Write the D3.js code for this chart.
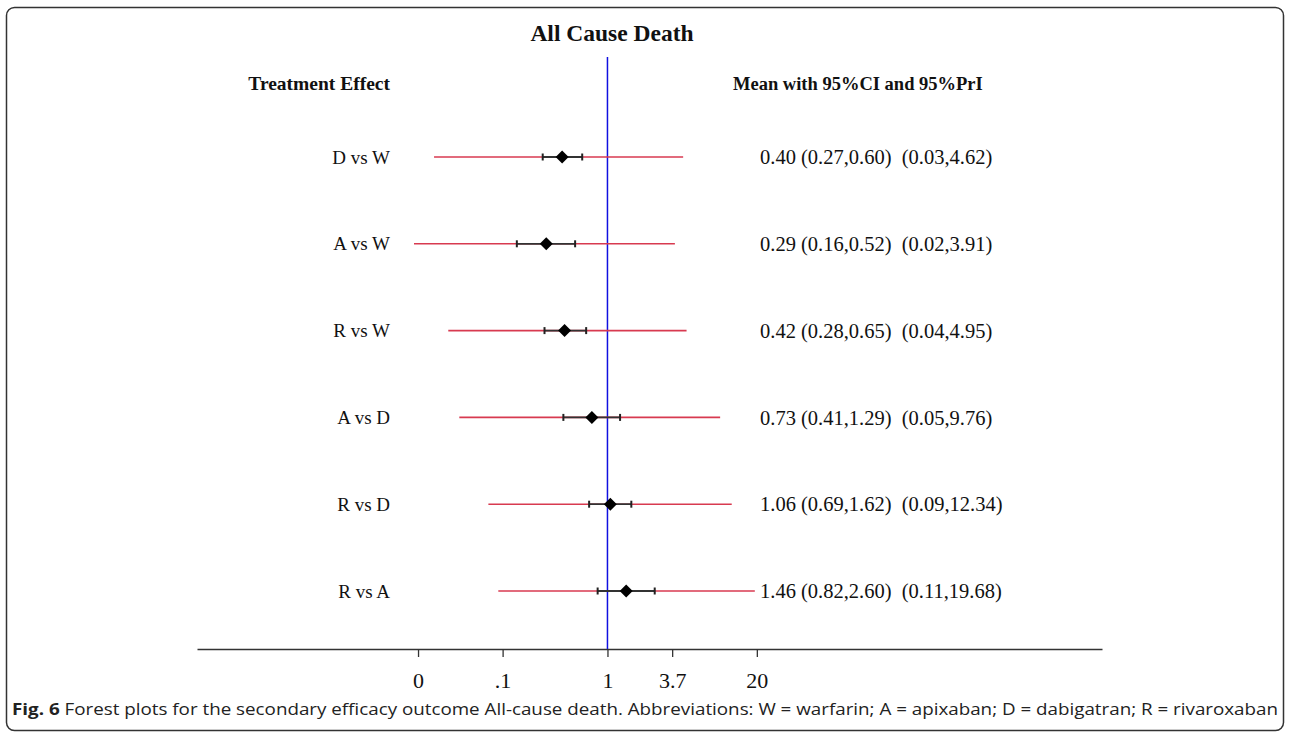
<!DOCTYPE html>
<html>
<head>
<meta charset="utf-8">
<script src="https://cdn.jsdelivr.net/npm/d3@7"></script>
<style>
  body { margin: 0; background: #fff; }
  .serif { font-family: "Liberation Serif", "Times New Roman", serif; }
  .caption { font-family: "Open Sans", "Noto Sans", sans-serif; }
</style>
</head>
<body>
<div class="chart"></div>
<script>
const comparisons = ["D vs W", "A vs W", "R vs W", "A vs D", "R vs D", "R vs A"];
const means  = [0.40, 0.29, 0.42, 0.73, 1.06, 1.46];
const ciLow  = [0.27, 0.16, 0.28, 0.41, 0.69, 0.82];
const ciHigh = [0.60, 0.52, 0.65, 1.29, 1.62, 2.60];
const priLow  = [0.03, 0.02, 0.04, 0.05, 0.09, 0.11];
const priHigh = [4.62, 3.91, 4.95, 9.76, 12.34, 19.68];
const tickValues = [0.0217, 0.12, 1, 3.7, 20.5];
const tickLabels = ["0", ".1", "1", "3.7", "20"];

const W = 1290, H = 738;

const data = comparisons.map((c, i) => ({
    name: c, mean: means[i], lo: ciLow[i], hi: ciHigh[i], plo: priLow[i], phi: priHigh[i]
}));

const svg = d3.select('.chart').append('svg')
    .attr("width", W)
    .attr("height", H);

// frame
svg.append("rect")
    .attr("x", 6.5).attr("y", 7.5)
    .attr("width", 1277).attr("height", 723)
    .attr("rx", 8)
    .attr("fill", "none")
    .attr("stroke", "#333")
    .attr("stroke-width", 1.5);

const xScale = d3.scaleLog()
    .domain([Math.exp(-8.3), Math.exp(10)])
    .range([197, 1102]);

const yScale = d3.scalePoint()
    .domain(comparisons)
    .range([157, 591]);

const axisY = 649;

// x axis
const xAxis = d3.axisBottom(xScale)
    .tickValues(tickValues)
    .tickFormat((d, i) => tickLabels[i])
    .tickSize(8)
    .tickPadding(15)
    .tickSizeOuter(0);

const ax = svg.append("g")
    .attr("class", "axis x-axis")
    .attr("transform", `translate(0, ${axisY})`)
    .call(xAxis);
ax.select(".domain").attr("stroke", "#333").attr("stroke-width", 1.3);
ax.selectAll(".tick line").attr("stroke", "#333").attr("stroke-width", 1.3);
ax.selectAll(".tick text")
    .attr("class", "serif")
    .attr("font-family", null)
    .attr("font-size", 22)
    .attr("fill", "#111");

// reference line at 1
svg.append("line")
    .attr("x1", xScale(1)).attr("x2", xScale(1))
    .attr("y1", 57).attr("y2", axisY)
    .attr("stroke", "#1010e0")
    .attr("stroke-width", 1.5);

const rows = svg.selectAll(".row")
    .data(data)
    .enter()
    .append("g")
    .attr("class", "row");

// prediction interval
rows.append("line")
    .attr("x1", d => xScale(d.plo))
    .attr("x2", d => xScale(d.phi))
    .attr("y1", d => yScale(d.name))
    .attr("y2", d => yScale(d.name))
    .attr("stroke", "#d83a50")
    .attr("stroke-width", 1.6);

// confidence interval
rows.append("line")
    .attr("x1", d => xScale(d.lo))
    .attr("x2", d => xScale(d.hi))
    .attr("y1", d => yScale(d.name))
    .attr("y2", d => yScale(d.name))
    .attr("stroke", "#333")
    .attr("stroke-width", 1.8);

["lo", "hi"].forEach(k => {
    rows.append("line")
        .attr("x1", d => xScale(d[k]))
        .attr("x2", d => xScale(d[k]))
        .attr("y1", d => yScale(d.name) - 3.5)
        .attr("y2", d => yScale(d.name) + 3.5)
        .attr("stroke", "#222")
        .attr("stroke-width", 2);
});

// mean diamond
rows.append("path")
    .attr("d", d => {
        const x = xScale(d.mean), y = yScale(d.name), r = 6.5;
        return `M${x},${y - r}L${x + r},${y}L${x},${y + r}L${x - r},${y}Z`;
    })
    .attr("fill", "#000");

// left labels
rows.append("text")
    .attr("class", "serif")
    .attr("x", 390)
    .attr("y", d => yScale(d.name))
    .attr("dy", "0.35em")
    .attr("text-anchor", "end")
    .attr("font-size", 19)
    .attr("fill", "#111")
    .text(d => d.name);

// right estimates: mean (CI)  (PrI)
const f2 = d3.format(".2f");
rows.append("text")
    .attr("class", "serif")
    .attr("x", d => Math.max(760, xScale(d.phi) + 4))
    .attr("y", d => yScale(d.name))
    .attr("dy", "0.35em")
    .attr("font-size", 20.5)
    .attr("fill", "#111")
    .style("white-space", "pre")
    .text(d => `${f2(d.mean)} (${f2(d.lo)},${f2(d.hi)})  (${f2(d.plo)},${f2(d.phi)})`);

// headers
svg.append("text")
    .attr("class", "serif")
    .attr("x", 612).attr("y", 41)
    .attr("text-anchor", "middle")
    .attr("font-size", 23.5)
    .attr("font-weight", "bold")
    .attr("fill", "#111")
    .text("All Cause Death");

svg.append("text")
    .attr("class", "serif")
    .attr("x", 390).attr("y", 90)
    .attr("text-anchor", "end")
    .attr("font-size", 19.5)
    .attr("font-weight", "bold")
    .attr("fill", "#111")
    .text("Treatment Effect");

svg.append("text")
    .attr("class", "serif")
    .attr("x", 733).attr("y", 90)
    .attr("font-size", 18.5)
    .attr("font-weight", "bold")
    .attr("fill", "#111")
    .text("Mean with 95%CI and 95%PrI");

// caption
const cap = svg.append("text")
    .attr("class", "caption")
    .attr("x", 12).attr("y", 715)
    .attr("font-size", 16)
    .attr("fill", "#222")
    .attr("textLength", 1266)
    .attr("lengthAdjust", "spacingAndGlyphs");
cap.append("tspan").attr("font-weight", "bold").text("Fig. 6");
cap.append("tspan").text(" Forest plots for the secondary efficacy outcome All-cause death. Abbreviations: W = warfarin; A = apixaban; D = dabigatran; R = rivaroxaban");
</script>
</body>
</html>
